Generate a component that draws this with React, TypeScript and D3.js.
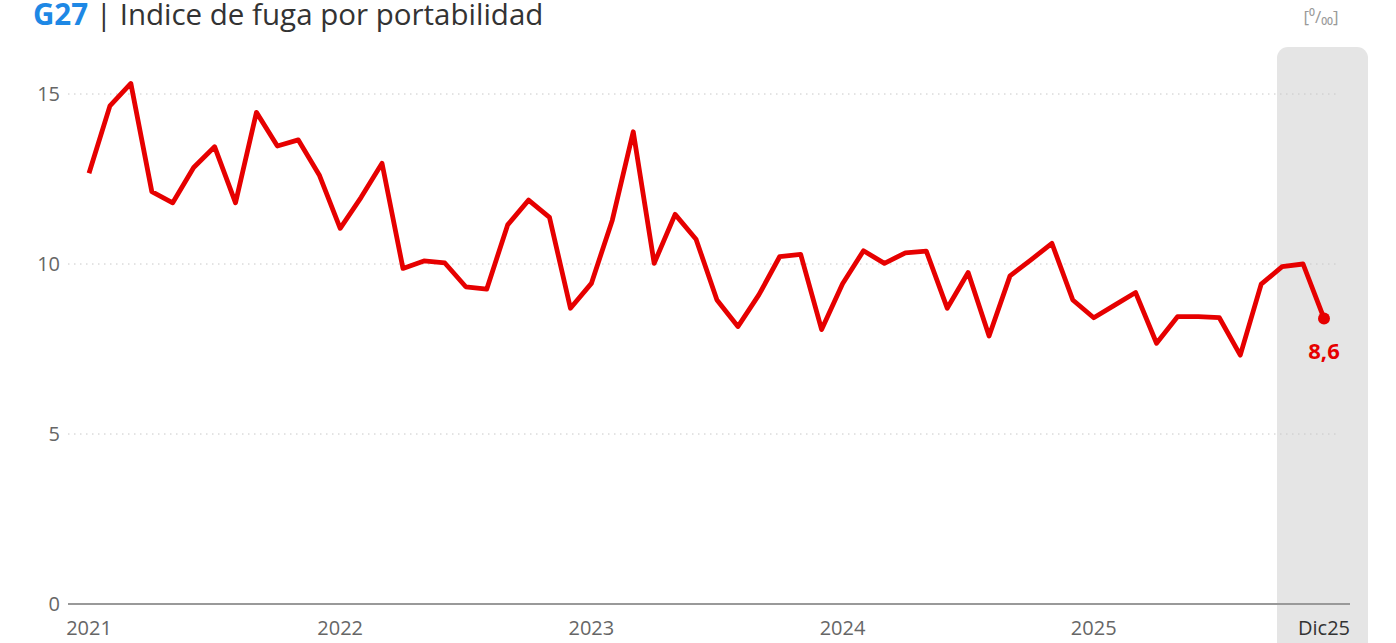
import React from 'react';
import * as d3 from 'd3';

// monthly values, Jan 2021 .. Dec 2025 (per mil)
const values2021 = [12.67, 14.65, 15.31, 12.13, 11.80, 12.84, 13.45, 11.80, 14.46, 13.47, 13.65, 12.62];
const values2022 = [11.05, 11.96, 12.96, 9.87, 10.09, 10.03, 9.33, 9.26, 11.15, 11.88, 11.37, 8.70];
const values2023 = [9.43, 11.29, 13.89, 10.02, 11.46, 10.73, 8.94, 8.16, 9.09, 10.22, 10.28, 8.07];
const values2024 = [9.42, 10.39, 10.02, 10.33, 10.38, 8.70, 9.75, 7.88, 9.65, 10.12, 10.61, 8.94];
const values2025 = [8.42, 8.79, 9.16, 7.67, 8.45, 8.45, 8.42, 7.32, 9.41, 9.92, 10.0, 8.40];

const series = [...values2021, ...values2022, ...values2023, ...values2024, ...values2025];

const yearLabels = ['2021', '2022', '2023', '2024', '2025'];
const lastLabel = 'Dic25';
const lastValueText = '8,6';
const yTicks = [0, 5, 10, 15];

const width = 1396;
const height = 643;
const font = '"Open Sans", "Noto Sans", sans-serif';

export default function App() {
    const x = d3.scaleLinear().domain([0, series.length - 1]).range([89, 1324]);
    const y = d3.scaleLinear().domain([0, 15]).range([604, 94]);

    const line = d3.line<number>()
        .x((d, i) => x(i))
        .y((d) => y(d));

    const lastIdx = series.length - 1;
    const lastVal = series[lastIdx];

    // grey highlight band over the latest months
    const bandX0 = x(lastIdx) - 47;
    const bandX1 = x(lastIdx) + 44;

    return (
        <svg width={width} height={height} style={{ position: 'absolute', left: 0, top: 0, fontFamily: font }}>
            <rect x={bandX0} y={47} width={bandX1 - bandX0} height={height} rx={11} fill="#e5e5e5" />

            <text x={33} y={25} fontSize={29.5} fill="#333">
                <tspan fill="#1e88e5" fontWeight="bold">G27</tspan>
                <tspan> | Indice de fuga por portabilidad</tspan>
            </text>
            <text x={1321} y={23} fontSize={17} fill="#999" textAnchor="middle">[⁰/₀₀]</text>

            {yTicks.filter((t) => t > 0).map((t) => (
                <line key={t} x1={68} x2={1336} y1={y(t)} y2={y(t)}
                    stroke="#c8c8c8" strokeWidth={1} strokeDasharray="1.5,4.5" />
            ))}
            {yTicks.map((t) => (
                <text key={t} x={60} y={y(t)} dy="0.35em" fontSize={20} fill="#666" textAnchor="end">{t}</text>
            ))}
            <line x1={68} x2={1350} y1={y(0)} y2={y(0)} stroke="#999" strokeWidth={2} />

            {yearLabels.map((lab, i) => (
                <text key={lab} x={x(i * 12)} y={635} fontSize={20} fill="#666" textAnchor="middle">{lab}</text>
            ))}
            <text x={x(lastIdx)} y={635} fontSize={20} fill="#333" textAnchor="middle">{lastLabel}</text>

            <path d={line(series) || ''} fill="none" stroke="#e60000" strokeWidth={4.8} strokeLinejoin="round" />
            <circle cx={x(lastIdx)} cy={y(lastVal)} r={6} fill="#e60000" />
            <text x={x(lastIdx)} y={y(lastVal) + 41} fontSize={22} fontWeight="bold" fill="#e60000" textAnchor="middle">{lastValueText}</text>
        </svg>
    );
}
